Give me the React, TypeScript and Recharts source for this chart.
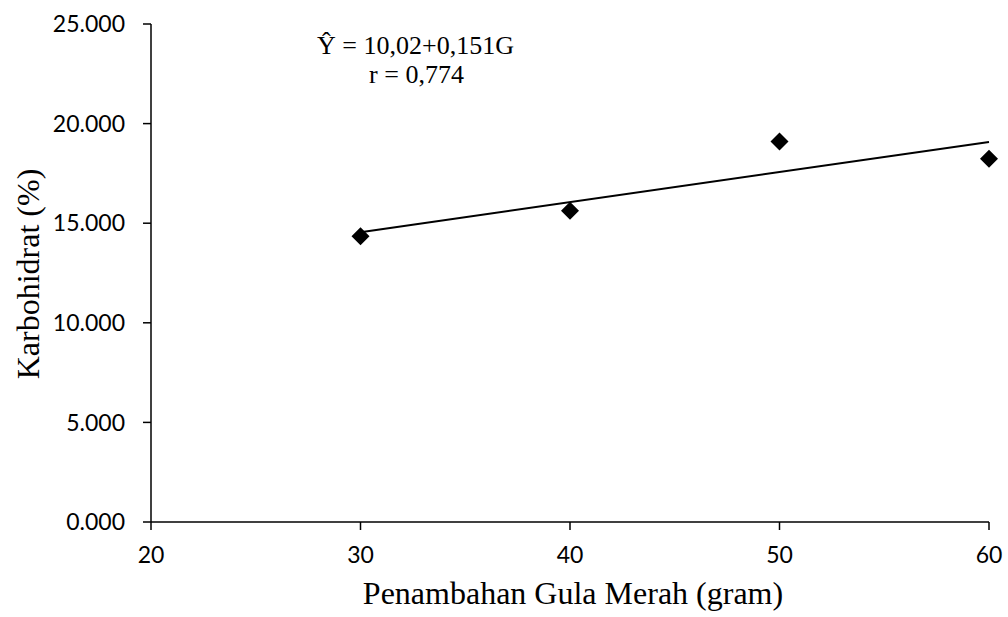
import { ComposedChart, Label, Line, Scatter, XAxis, YAxis } from 'recharts'

const gula = [30, 40, 50, 60]
const karbohidrat = [14.34, 15.63, 19.1, 18.24]
const trendX = [30, 60]
const trendY = [14.55, 19.08]
const xTicks = [20, 30, 40, 50, 60]
const yTicks = [0, 5, 10, 15, 20, 25]
const equation = ['Ŷ = 10,02+0,151G', 'r = 0,774']

const points = gula.map((g, i) => ({ x: g, y: karbohidrat[i] }))
const trend = trendX.map((g, i) => ({ x: g, y: trendY[i] }))

const serif = '"Liberation Serif", "Times New Roman", serif'
const tickFont = { fontFamily: 'Lato, "Open Sans", sans-serif', fontSize: 23, fill: '#000' }

const Diamond = (props: any) => {
    const { cx, cy } = props
    const r = 9
    return <path d={`M${cx},${cy - r}L${cx + r},${cy}L${cx},${cy + r}L${cx - r},${cy}Z`} fill="#000" />
}

const App = () => {
    return (
        // absolute so the body's bottom margin does not add a scrollbar
        <div style={{ position: 'absolute', left: 8, top: 8, width: 1000, height: 609 }}>
            <ComposedChart width={1000} height={609} margin={{ top: 16, right: 19, left: 0, bottom: 0 }}>
                <XAxis
                    type="number"
                    dataKey="x"
                    domain={[20, 60]}
                    ticks={xTicks}
                    tick={tickFont}
                    tickSize={8}
                    tickMargin={17}
                    height={95}
                    stroke="#000"
                    strokeWidth={1.5}
                    allowDuplicatedCategory={false}
                >
                    <Label
                        content={({ viewBox }: any) => (
                            <text
                                x={viewBox.x + viewBox.width / 2 + 3}
                                y={viewBox.y + 82}
                                textAnchor="middle"
                                fontFamily={serif}
                                fontSize={32}
                                fill="#000"
                            >
                                Penambahan Gula Merah (gram)
                            </text>
                        )}
                    />
                </XAxis>
                <YAxis
                    type="number"
                    dataKey="y"
                    domain={[0, 25]}
                    ticks={yTicks}
                    tick={tickFont}
                    tickSize={8}
                    tickMargin={18}
                    tickFormatter={(v: number) => v.toFixed(3)}
                    width={143}
                    stroke="#000"
                    strokeWidth={1.5}
                >
                    <Label
                        content={({ viewBox }: any) => {
                            const cx = viewBox.x + 31
                            const cy = viewBox.y + viewBox.height / 2 + 1
                            return (
                                <text
                                    x={cx}
                                    y={cy}
                                    transform={`rotate(-90 ${cx} ${cy})`}
                                    textAnchor="middle"
                                    fontFamily={serif}
                                    fontSize={32}
                                    fill="#000"
                                >
                                    Karbohidrat (%)
                                </text>
                            )
                        }}
                    />
                </YAxis>
                <Line
                    data={trend}
                    dataKey="y"
                    type="linear"
                    stroke="#000"
                    strokeWidth={2}
                    dot={false}
                    activeDot={false}
                    isAnimationActive={false}
                />
                <Scatter data={points} dataKey="y" shape={Diamond} isAnimationActive={false} />
            </ComposedChart>
            <svg
                width={1000}
                height={609}
                style={{ position: 'absolute', left: 0, top: 0, pointerEvents: 'none' }}
            >
                <text x={407.5} y={46} textAnchor="middle" fontFamily={serif} fontSize={26} fill="#000">
                    {equation[0]}
                </text>
                <text x={408.5} y={75} textAnchor="middle" fontFamily={serif} fontSize={26} fill="#000">
                    {equation[1]}
                </text>
            </svg>
        </div>
    )
}

export default App
